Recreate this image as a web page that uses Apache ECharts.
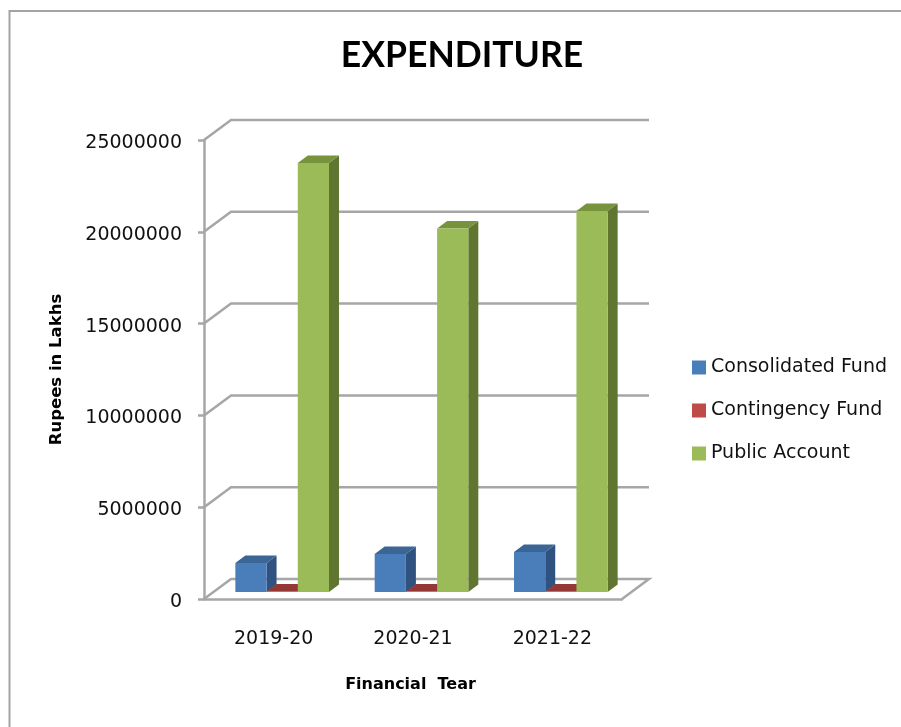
<!DOCTYPE html>
<html>
<head>
<meta charset="UTF-8" />
<title>Expenditure</title>
<style>
  * { margin: 0; padding: 0; }
  html, body { background: #fff; overflow: hidden; }
  #chart { width: 901px; height: 727px; }
</style>
</head>
<body>
<div id="chart"></div>
<script src="https://cdn.jsdelivr.net/npm/echarts@6/dist/echarts.min.js"></script>
<script>
let years = ['2019-20', '2020-21', '2021-22']
let consolidatedFund = [1580000, 2070000, 2180000]
let contingencyFund = [30000, 30000, 30000]
let publicAccount = [23370000, 19800000, 20750000]
let wallTicks = [0, 5000000, 10000000, 15000000, 20000000, 25000000]

let gray = '#a6a6a6'
let labelFont = 'DejaVu Sans'
// fake 3d: wall depth and bar depth in px
let wallDx = 27, wallDy = 20
let barDx = 10, barDy = 7.5
let floorDx = 8.5, floorDy = 7

let chart = echarts.init(document.getElementById('chart'))

function poly(points, color) {
  return { type: 'polygon', shape: { points: points }, style: { fill: color } }
}

// one box per value, front + top + side
function barItem(seriesIndex, front, top, side) {
  return function (params, api) {
    let cat = api.value(0)
    let base = api.coord([cat, 0])
    let head = api.coord([cat, api.value(1)])
    let band = api.size([1, 0])[0]
    let w = band * 0.224
    let left = base[0] - w * 1.5 + floorDx + seriesIndex * w
    let right = left + w
    let y0 = base[1] - floorDy
    let y1 = head[1] - floorDy
    return {
      type: 'group',
      children: [
        poly([[right, y0], [right + barDx, y0 - barDy], [right + barDx, y1 - barDy], [right, y1]], side),
        poly([[left, y1], [right, y1], [right + barDx, y1 - barDy], [left + barDx, y1 - barDy]], top),
        poly([[left, y0], [right, y0], [right, y1], [left, y1]], front)
      ]
    }
  }
}

function wallItem(params, api) {
  let rect = params.coordSys
  let y = api.coord([0, api.value(1)])[1]
  let x0 = rect.x, x1 = rect.x + rect.width
  let points = [[x0, y], [x0 + wallDx, y - wallDy], [x1 + wallDx, y - wallDy]]
  if (api.value(1) === 0) points.push([x1, y])
  return {
    type: 'polyline',
    shape: { points: points },
    style: { fill: null, stroke: gray, lineWidth: 2.5 }
  }
}

function barSeries(name, values, index, colors) {
  return {
    name: name,
    type: 'custom',
    renderItem: barItem(index, colors[0], colors[1], colors[2]),
    encode: { x: 0, y: 1 },
    itemStyle: { color: colors[3] },
    data: values.map((v, i) => [i, v]),
    clip: false,
    z: 5
  }
}

let option = {
  animation: false,
  backgroundColor: '#fff',
  title: {
    text: 'EXPENDITURE',
    left: 457,
    top: 33,
    textAlign: 'center',
    textStyle: { color: '#000', fontFamily: 'Lato', fontSize: 35.5, fontWeight: 'bold' }
  },
  legend: {
    orient: 'vertical',
    left: 687,
    top: 353,
    itemWidth: 14,
    itemHeight: 14,
    itemGap: 24,
    icon: 'rect',
    data: ['Consolidated Fund', 'Contingency Fund', 'Public Account'],
    textStyle: { color: '#111', fontFamily: labelFont, fontSize: 19 }
  },
  grid: { left: 204, top: 140, width: 418, height: 459 },
  xAxis: {
    type: 'category',
    data: years,
    name: 'Financial  Tear',
    nameLocation: 'middle',
    nameGap: 78,
    nameTextStyle: { color: '#000', fontFamily: labelFont, fontSize: 16, fontWeight: 'bold', padding: [0, 5, 0, 0] },
    axisLine: { lineStyle: { color: gray, width: 2.5 } },
    axisTick: { show: false },
    axisLabel: { color: '#111', fontFamily: labelFont, fontSize: 19, margin: 31 }
  },
  yAxis: {
    type: 'value',
    min: 0,
    max: 25000000,
    interval: 5000000,
    name: 'Rupees in Lakhs',
    nameLocation: 'middle',
    nameGap: 139,
    nameTextStyle: { color: '#000', fontFamily: labelFont, fontSize: 16.5, fontWeight: 'bold' },
    axisLine: { show: true, lineStyle: { color: gray, width: 2.5 } },
    axisTick: { show: true, length: 6, lineStyle: { color: gray, width: 2.5 } },
    axisLabel: {
      color: '#111',
      fontFamily: labelFont,
      fontSize: 19,
      margin: 22,
      verticalAlign: 'top',
      lineHeight: 6,
      formatter: v => String(v)
    },
    splitLine: { show: false }
  },
  series: [
    {
      type: 'custom',
      name: 'walls',
      renderItem: wallItem,
      encode: { x: 0, y: 1 },
      data: wallTicks.map(v => [0, v]),
      clip: false,
      silent: true,
      z: 1
    },
    barSeries('Consolidated Fund', consolidatedFund, 0, ['#4a7ebb', '#3a6595', '#2f5280', '#4a7ebb']),
    barSeries('Contingency Fund', contingencyFund, 1, ['#be4b48', '#953735', '#7a2c2a', '#be4b48']),
    barSeries('Public Account', publicAccount, 2, ['#9bbb59', '#77933c', '#5f7530', '#9bbb59'])
  ],
  graphic: [
    {
      type: 'polyline',
      silent: true,
      shape: { points: [[9.5, 727], [9.5, 11], [901, 11]] },
      style: { fill: null, stroke: '#a3a3a3', lineWidth: 2 }
    }
  ]
}

chart.setOption(option)
</script>
</body>
</html>
